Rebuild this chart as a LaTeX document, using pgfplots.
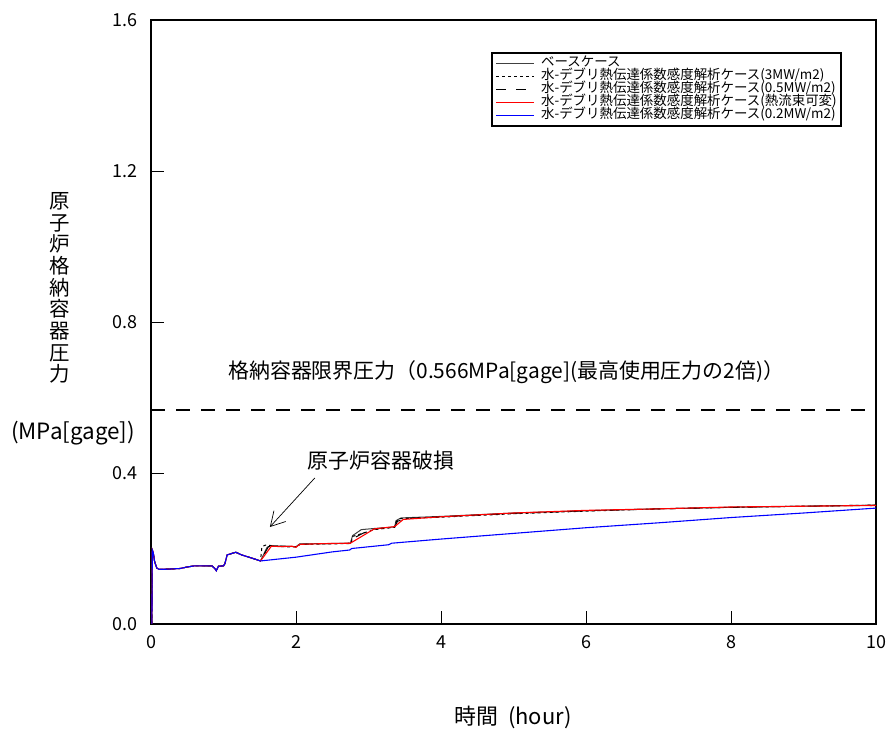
\documentclass[border=0pt]{standalone}
\usepackage{fontspec}
\setmainfont{Noto Sans CJK JP}
\usepackage{pgfplots}
\pgfplotsset{compat=1.18}
\usetikzlibrary{arrows.meta}

\begin{document}
\begin{tikzpicture}[x=1bp,y=1bp]
\path[use as bounding box] (0,0) rectangle (891,729);
\begin{axis}[
  at={(151bp,105bp)}, anchor=south west,
  scale only axis, width=725bp, height=604bp,
  xmin=0, xmax=10, ymin=0, ymax=1.6,
  xtick={0,2,4,6,8,10}, xticklabels={0,2,4,6,8,10},
  ytick={0,0.4,0.8,1.2,1.6}, yticklabels={0.0,0.4,0.8,1.2,1.6},
  tick align=inside, xtick pos=bottom, ytick pos=left,
  major tick length=13bp,
  axis line style={line width=1.6bp},
  tick style={line width=0.8bp, black},
  ticklabel style={font=\fontsize{18}{18}\selectfont},
  xticklabel style={yshift=-8bp},
  yticklabel style={xshift=-10bp},
  legend cell align=left,
  legend style={at={(rel axis cs:0.469,0.947)}, anchor=north west,
    draw=black, line width=1.6bp, inner sep=4bp,
    font=\fontsize{13.5}{13.5}\selectfont,
    nodes={inner sep=0.25bp, text height=9.5bp, text depth=3bp},
    /tikz/every odd column/.append style={column sep=6bp}},
  legend image code/.code={\draw[#1] (0bp,0bp) -- (38bp,0bp);},
]
% limit line
\addplot[black, line width=2.2bp, dash pattern=on 14bp off 11bp, forget plot] coordinates {(0,0.566) (10,0.566)};

% base case
\addplot[black!75, line width=1bp] coordinates {
(0.012,0) (0.018,0.196) (0.03,0.19) (0.05,0.165) (0.08,0.148) (0.11,0.145) (0.2,0.145) (0.4,0.147) (0.5,0.151) (0.6,0.154) (0.84,0.154) (0.88,0.147) (0.9,0.141) (0.93,0.153) (1.0,0.154) (1.02,0.16) (1.05,0.183) (1.1,0.186) (1.17,0.19) (1.25,0.183) (1.4,0.174) (1.51,0.167)
(1.6,0.203) (1.65,0.208) (1.8,0.206) (2.0,0.205) (2.05,0.212) (2.4,0.213) (2.75,0.214) (2.78,0.234) (2.9,0.25) (3.08,0.253) (3.36,0.257) (3.38,0.274) (3.45,0.281) (4.0,0.285) (5,0.294) (6,0.300) (7,0.305) (8,0.309) (9,0.312) (10,0.315)};
\addlegendentry{ベースケース}

% 3MW/m2
\addplot[black, line width=1bp, dash pattern=on 3bp off 3bp] coordinates {
(0.012,0) (0.018,0.196) (0.03,0.19) (0.05,0.165) (0.08,0.148) (0.11,0.145) (0.2,0.145) (0.4,0.147) (0.5,0.151) (0.6,0.154) (0.84,0.154) (0.88,0.147) (0.9,0.141) (0.93,0.153) (1.0,0.154) (1.02,0.16) (1.05,0.183) (1.1,0.186) (1.17,0.19) (1.25,0.183) (1.4,0.174) (1.51,0.167)
(1.53,0.205) (1.58,0.209) (1.8,0.205) (2.0,0.204) (2.06,0.211) (2.4,0.212) (2.76,0.213) (2.78,0.232) (2.85,0.236) (3.08,0.25) (3.36,0.256) (3.38,0.27) (3.42,0.279) (4.0,0.283) (5,0.292) (6,0.299) (7,0.305) (8,0.309) (9,0.312) (10,0.315)};
\addlegendentry{水-デブリ熱伝達係数感度解析ケース(3MW/m2)}

% 0.5MW/m2
\addplot[black, line width=1bp, dash pattern=on 10bp off 10bp] coordinates {
(0.012,0) (0.018,0.196) (0.03,0.19) (0.05,0.165) (0.08,0.148) (0.11,0.145) (0.2,0.145) (0.4,0.147) (0.5,0.151) (0.6,0.154) (0.84,0.154) (0.88,0.147) (0.9,0.141) (0.93,0.153) (1.0,0.154) (1.02,0.16) (1.05,0.183) (1.1,0.186) (1.17,0.19) (1.25,0.183) (1.4,0.174) (1.51,0.167)
(1.62,0.205) (1.7,0.207) (2.0,0.205) (2.05,0.211) (2.4,0.213) (2.76,0.214) (2.8,0.228) (3.0,0.248) (3.1,0.252) (3.36,0.257) (3.4,0.272) (3.5,0.279) (4,0.284) (5,0.293) (6,0.30) (7,0.305) (8,0.309) (9,0.312) (10,0.314)};
\addlegendentry{水-デブリ熱伝達係数感度解析ケース(0.5MW/m2)}

% variable heat flux
\addplot[red, line width=1.1bp] coordinates {
(0.012,0) (0.018,0.196) (0.03,0.19) (0.05,0.165) (0.08,0.148) (0.11,0.145) (0.2,0.145) (0.4,0.147) (0.5,0.151) (0.6,0.154) (0.84,0.154) (0.88,0.147) (0.9,0.141) (0.93,0.153) (1.0,0.154) (1.02,0.16) (1.05,0.183) (1.1,0.186) (1.17,0.19) (1.25,0.183) (1.4,0.174) (1.51,0.167)
(1.66,0.206) (1.8,0.205) (1.95,0.206) (2.0,0.203) (2.05,0.211) (2.4,0.213) (2.75,0.214) (3.08,0.252) (3.36,0.258) (3.48,0.277) (4.0,0.284) (5,0.294) (6,0.301) (7,0.305) (8,0.31) (9,0.312) (10,0.314)};
\addlegendentry{水-デブリ熱伝達係数感度解析ケース(熱流束可変)}

% 0.2MW/m2
\addplot[blue, line width=1.1bp] coordinates {
(0.012,0) (0.018,0.196) (0.03,0.19) (0.05,0.165) (0.08,0.148) (0.11,0.145) (0.2,0.145) (0.4,0.147) (0.5,0.151) (0.6,0.154) (0.84,0.154) (0.88,0.147) (0.9,0.141) (0.93,0.153) (1.0,0.154) (1.02,0.16) (1.05,0.183) (1.1,0.186) (1.17,0.19) (1.25,0.183) (1.4,0.174) (1.51,0.167)
(2.0,0.177) (2.5,0.191) (2.74,0.196) (2.77,0.200) (3.28,0.210) (3.32,0.214) (4.0,0.225) (5,0.24) (6,0.255) (7,0.268) (8,0.282) (9,0.294) (10,0.307)};
\addlegendentry{水-デブリ熱伝達係数感度解析ケース(0.2MW/m2)}

\node[font=\fontsize{21}{21}\selectfont] at (axis cs:4.9,0.668) {格納容器限界圧力（0.566MPa[gage](最高使用圧力の2倍)）};
\node[font=\fontsize{21}{21}\selectfont] at (axis cs:3.17,0.434) {原子炉容器破損};
\draw[-{Straight Barb[length=14bp,width=16bp]}, line width=0.7bp] (axis cs:2.26,0.387) -- (axis cs:1.64,0.257);
\end{axis}
\node[font=\fontsize{20.5}{21.7}\selectfont, align=center, inner sep=0pt] at (60,441) {原\\子\\炉\\格\\納\\容\\器\\圧\\力};
\node[font=\fontsize{22.5}{22.5}\selectfont] at (73,296) {(MPa[gage])};
\node[font=\fontsize{22}{22}\selectfont] at (513,12) {時間\ \ (hour)};
\end{tikzpicture}
\end{document}
